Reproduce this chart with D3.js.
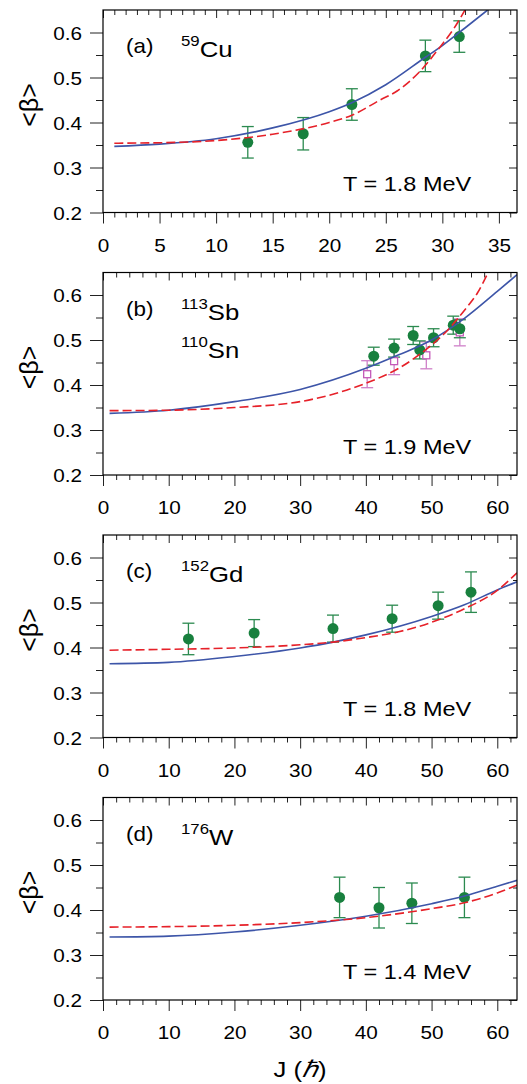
<!DOCTYPE html>
<html>
<head>
<meta charset="utf-8">
<script src="https://cdn.jsdelivr.net/npm/d3@7"></script>
<style>
  html, body { margin: 0; padding: 0; background: #fff; }
  svg { display: block; font-family: "Liberation Sans", Arial, Helvetica, sans-serif; }
</style>
</head>
<body>
<svg id="chart" width="527" height="1084"></svg>
<script>
// ---------------- data ----------------
const panelTags = ["(a)", "(b)", "(c)", "(d)"];
const massNumbers = [["59"], ["113", "110"], ["152"], ["176"]];
const elementSymbols = [["Cu"], ["Sb", "Sn"], ["Gd"], ["W"]];
const temperatures = ["T = 1.8 MeV", "T = 1.9 MeV", "T = 1.8 MeV", "T = 1.4 MeV"];
const spinMax = [36.6, 63, 63, 63];
const spinMajorStep = [5, 10, 10, 10];
const spinMinorStep = [1, 2, 2, 2];
const betaMajorTicks = [0.2, 0.3, 0.4, 0.5, 0.6];
const betaMinorTicks = [0.25, 0.35, 0.45, 0.55];

// measured <beta> (filled circles)
const cuJ = [12.8, 17.7, 22.0, 28.5, 31.5];
const cuBeta = [0.356, 0.375, 0.440, 0.548, 0.591];
const cuErr = [0.035, 0.036, 0.035, 0.035, 0.035];

const sbJ = [41.2, 44.3, 47.2, 48.2, 50.3, 53.3, 54.3];
const sbBeta = [0.464, 0.482, 0.510, 0.478, 0.505, 0.533, 0.525];
const sbErr = [0.02, 0.02, 0.02, 0.02, 0.02, 0.02, 0.02];

// 110Sn (open squares)
const snJ = [40.2, 44.3, 49.2, 54.3];
const snBeta = [0.424, 0.453, 0.466, 0.517];
const snErr = [0.03, 0.03, 0.03, 0.03];

const gdJ = [13, 23, 35, 44, 51, 56];
const gdBeta = [0.419, 0.432, 0.442, 0.464, 0.493, 0.523];
const gdErr = [0.035, 0.03, 0.03, 0.03, 0.03, 0.045];

const wJ = [36, 42, 47, 55];
const wBeta = [0.428, 0.405, 0.415, 0.428];
const wErr = [0.045, 0.045, 0.045, 0.045];

// calculated curves: solid (blue) and dashed (red)
const cuSolidJ = [1, 5, 10, 15, 20, 22, 25, 28.5, 30, 32, 34];
const cuSolidBeta = [0.347, 0.352, 0.364, 0.388, 0.424, 0.444, 0.484, 0.545, 0.571, 0.610, 0.650];
const cuDashJ = [1, 5, 10, 15, 20, 22, 24.5, 26, 28, 29.8, 31, 32];
const cuDashBeta = [0.354, 0.355, 0.360, 0.374, 0.400, 0.416, 0.450, 0.470, 0.513, 0.568, 0.608, 0.650];

const sbSolidJ = [1, 10, 20, 30, 40, 45, 50, 55, 60, 63];
const sbSolidBeta = [0.337, 0.344, 0.363, 0.390, 0.437, 0.467, 0.500, 0.548, 0.608, 0.645];
const sbDashJ = [1, 10, 20, 30, 40, 45, 50, 52, 54, 55.5, 57, 58.6];
const sbDashBeta = [0.343, 0.344, 0.350, 0.363, 0.404, 0.437, 0.489, 0.515, 0.548, 0.575, 0.605, 0.650];

const gdSolidJ = [1, 10, 20, 30, 35, 40, 50, 55, 60, 63];
const gdSolidBeta = [0.364, 0.367, 0.380, 0.399, 0.412, 0.428, 0.469, 0.495, 0.528, 0.546];
const gdDashJ = [1, 10, 20, 30, 35, 40, 45, 50, 55, 60, 63];
const gdDashBeta = [0.394, 0.396, 0.399, 0.406, 0.412, 0.422, 0.435, 0.456, 0.486, 0.527, 0.566];

const wSolidJ = [1, 10, 20, 30, 40, 50, 55, 60, 63];
const wSolidBeta = [0.340, 0.342, 0.351, 0.366, 0.386, 0.414, 0.431, 0.453, 0.466];
const wDashJ = [1, 10, 20, 30, 40, 50, 55, 60, 63];
const wDashBeta = [0.362, 0.363, 0.366, 0.372, 0.383, 0.403, 0.416, 0.438, 0.455];

// ---------------- assembly ----------------
const zip2 = (a, b) => a.map((v, i) => [v, b[i]]);
const zip3 = (a, b, c) => a.map((v, i) => ({ j: v, beta: b[i], err: c[i] }));

const panels = [
  { circles: zip3(cuJ, cuBeta, cuErr), squares: [],
    solid: zip2(cuSolidJ, cuSolidBeta), dashed: zip2(cuDashJ, cuDashBeta) },
  { circles: zip3(sbJ, sbBeta, sbErr), squares: zip3(snJ, snBeta, snErr),
    solid: zip2(sbSolidJ, sbSolidBeta), dashed: zip2(sbDashJ, sbDashBeta) },
  { circles: zip3(gdJ, gdBeta, gdErr), squares: [],
    solid: zip2(gdSolidJ, gdSolidBeta), dashed: zip2(gdDashJ, gdDashBeta) },
  { circles: zip3(wJ, wBeta, wErr), squares: [],
    solid: zip2(wSolidJ, wSolidBeta), dashed: zip2(wDashJ, wDashBeta) }
];

// ---------------- layout / style ----------------
const SX = 1.12;                 // horizontal stretch of the lettering
const plotLeft = 103, plotRight = 517;
const firstTop = 10, panelHeight = 202.5, panelPitch = 262.5;
const GREEN = "#18803e", GREEN_BAR = "#2b8a4f";
const BLUE = "#3d55a8", RED = "#e62129";
const MAGENTA = "#c45ab8", MAGENTA_BAR = "#cf7fc8";

const svg = d3.select("#chart");

function stretchedText(g, x, y, str, size, anchor) {
  return g.append("text")
    .attr("transform", `translate(${x},${y}) scale(${SX},1)`)
    .attr("text-anchor", anchor || "start")
    .attr("font-size", size)
    .attr("fill", "#000")
    .text(str);
}

function styleAxis(g) {
  g.select(".domain").remove();
  g.selectAll(".tick line").attr("stroke", "#222").attr("stroke-width", 1);
}

panels.forEach((p, i) => {
  const top = firstTop + i * panelPitch;
  const bottom = top + panelHeight;
  const x = d3.scaleLinear().domain([0, spinMax[i]]).range([plotLeft, plotRight]);
  const y = d3.scaleLinear().domain([0.2, 0.65]).range([bottom, top]);
  const g = svg.append("g");

  const majorX = d3.range(0, spinMax[i] + 1e-6, spinMajorStep[i]);
  const minorX = d3.range(0, spinMax[i] + 1e-6, spinMinorStep[i])
    .filter(v => Math.abs(v / spinMajorStep[i] - Math.round(v / spinMajorStep[i])) > 1e-6);

  // bottom axis: outward ticks with labels
  const xb = g.append("g").attr("transform", `translate(0,${bottom})`)
    .call(d3.axisBottom(x).tickValues(majorX).tickSize(11).tickFormat(d3.format("d")));
  styleAxis(xb);
  xb.selectAll(".tick text")
    .attr("x", null).attr("y", null).attr("dy", null)
    .attr("transform", `translate(0,39) scale(${SX},1)`)
    .attr("font-size", 18.5).attr("font-family", null).attr("fill", "#000");
  const xbm = g.append("g").attr("transform", `translate(0,${bottom})`)
    .call(d3.axisBottom(x).tickValues(minorX).tickSize(5).tickFormat(""));
  styleAxis(xbm);

  // top axis: inward ticks
  const xt = g.append("g").attr("transform", `translate(0,${top})`)
    .call(d3.axisTop(x).tickValues(majorX).tickSize(-8).tickFormat(""));
  styleAxis(xt);
  const xtm = g.append("g").attr("transform", `translate(0,${top})`)
    .call(d3.axisTop(x).tickValues(minorX).tickSize(-5).tickFormat(""));
  styleAxis(xtm);

  // left axis: outward ticks with labels
  const yl = g.append("g").attr("transform", `translate(${plotLeft},0)`)
    .call(d3.axisLeft(y).tickValues(betaMajorTicks).tickSize(13).tickFormat(d3.format(".1f")));
  styleAxis(yl);
  yl.selectAll(".tick text")
    .attr("x", null).attr("dy", "0.36em")
    .attr("transform", `translate(-21,0) scale(${SX},1)`)
    .attr("font-size", 18.5).attr("font-family", null).attr("fill", "#000");
  const ylm = g.append("g").attr("transform", `translate(${plotLeft},0)`)
    .call(d3.axisLeft(y).tickValues(betaMinorTicks).tickSize(7).tickFormat(""));
  styleAxis(ylm);

  // right axis: inward ticks
  const yr = g.append("g").attr("transform", `translate(${plotRight},0)`)
    .call(d3.axisRight(y).tickValues(betaMajorTicks).tickSize(-8).tickFormat(""));
  styleAxis(yr);
  const yrm = g.append("g").attr("transform", `translate(${plotRight},0)`)
    .call(d3.axisRight(y).tickValues(betaMinorTicks).tickSize(-4).tickFormat(""));
  styleAxis(yrm);

  // clip region for the curves
  const clipId = "clip" + i;
  g.append("clipPath").attr("id", clipId)
    .append("rect").attr("x", plotLeft).attr("y", top)
    .attr("width", plotRight - plotLeft).attr("height", panelHeight);

  // error bars + markers
  const cap = 6;
  function errorBars(data, color) {
    const eb = g.append("g").attr("stroke", color).attr("stroke-width", 1.3).attr("fill", "none");
    data.forEach(d => {
      const cx = x(d.j), y0 = y(d.beta - d.err), y1 = y(d.beta + d.err);
      eb.append("line").attr("x1", cx).attr("x2", cx).attr("y1", y0).attr("y2", y1);
      eb.append("line").attr("x1", cx - cap).attr("x2", cx + cap).attr("y1", y0).attr("y2", y0);
      eb.append("line").attr("x1", cx - cap).attr("x2", cx + cap).attr("y1", y1).attr("y2", y1);
    });
  }
  errorBars(p.squares, MAGENTA_BAR);
  errorBars(p.circles, GREEN_BAR);

  g.append("g").selectAll("rect.sq").data(p.squares).join("rect")
    .attr("x", d => x(d.j) - 3.5).attr("y", d => y(d.beta) - 3.5)
    .attr("width", 7).attr("height", 7)
    .attr("fill", "#fff").attr("stroke", MAGENTA).attr("stroke-width", 1.3);

  g.append("g").selectAll("circle").data(p.circles).join("circle")
    .attr("cx", d => x(d.j)).attr("cy", d => y(d.beta)).attr("r", 5.5)
    .attr("fill", GREEN);

  // calculated curves
  const line = d3.line().x(d => x(d[0])).y(d => y(d[1])).curve(d3.curveMonotoneX);
  const cg = g.append("g").attr("clip-path", `url(#${clipId})`);
  cg.append("path").datum(p.solid).attr("d", line)
    .attr("fill", "none").attr("stroke", BLUE).attr("stroke-width", 1.6);
  cg.append("path").datum(p.dashed).attr("d", line)
    .attr("fill", "none").attr("stroke", RED).attr("stroke-width", 1.6)
    .attr("stroke-dasharray", "9,4");

  // frame
  g.append("rect").attr("x", plotLeft).attr("y", top)
    .attr("width", plotRight - plotLeft).attr("height", panelHeight)
    .attr("fill", "none").attr("stroke", "#000").attr("stroke-width", 1.2);

  // panel tag, nucleus, temperature
  stretchedText(g, 126, top + 43, panelTags[i], 20);
  massNumbers[i].forEach((a, k) => {
    const t = g.append("text")
      .attr("transform", `translate(181,${top + 47 + k * 38}) scale(${SX},1)`)
      .attr("fill", "#000");
    t.append("tspan").attr("font-size", 15).attr("dy", -11).text(a);
    t.append("tspan").attr("font-size", 23).attr("dy", 11).text(elementSymbols[i][k]);
  });
  stretchedText(g, 343, top + 181, temperatures[i], 21);

  // y title
  g.append("text")
    .attr("transform", `translate(38,${top + 95}) rotate(-90)`)
    .attr("text-anchor", "middle").attr("font-size", 25).attr("fill", "#000")
    .text("<β>");
});

// x title
const xt = svg.append("text")
  .attr("transform", `translate(300,1077) scale(${SX},1)`)
  .attr("text-anchor", "middle").attr("font-size", 23).attr("fill", "#000");
xt.append("tspan").text("J (");
xt.append("tspan").attr("font-style", "italic").text("ℏ");
xt.append("tspan").text(")");
</script>
</body>
</html>
